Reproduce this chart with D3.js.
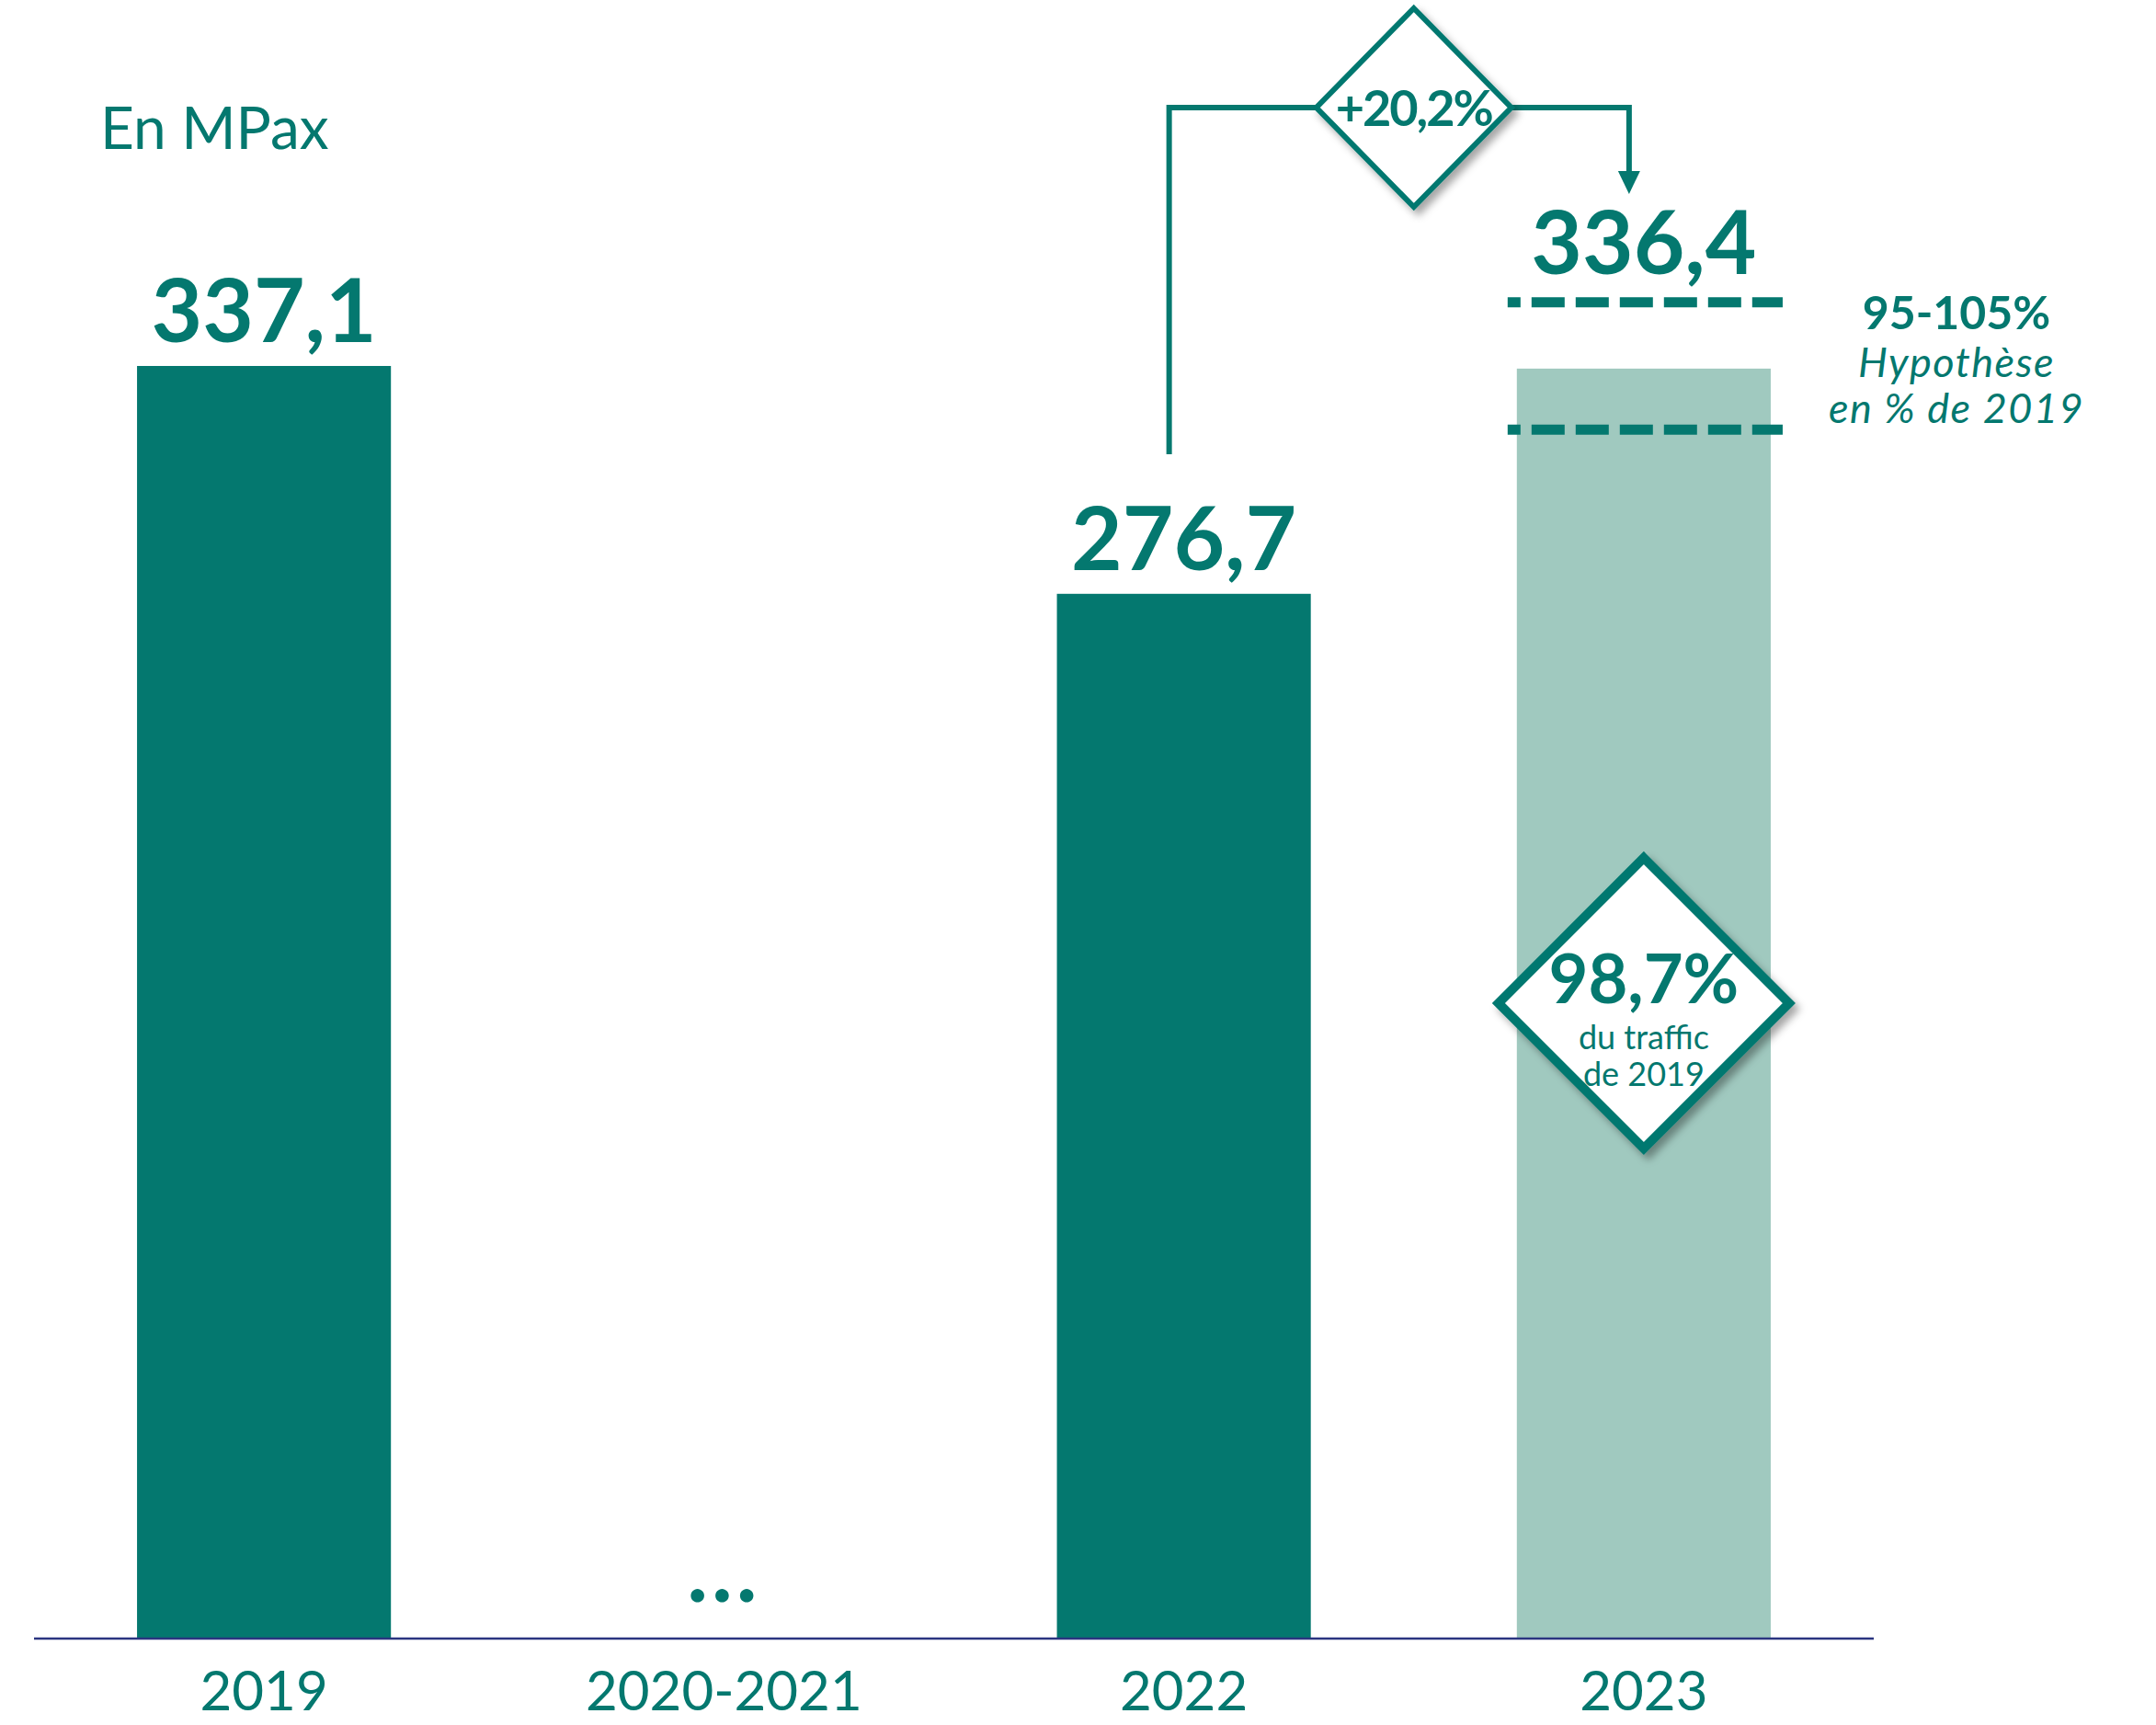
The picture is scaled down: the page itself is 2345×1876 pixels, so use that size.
<!DOCTYPE html>
<html>
<head>
<meta charset="utf-8">
<script src="https://cdn.jsdelivr.net/npm/d3@7"></script>
<style>
  body { margin: 0; background: #fff; }
  text { font-family: "Century Gothic", "URW Gothic", Lato, "Open Sans", sans-serif; }
</style>
</head>
<body>
<script>
// ---------------- data
var categories = ["2019", "2020-2021", "2022", "2023"];
var values = [337.1, null, 276.7, 336.4];
var isForecast = [false, false, false, true];
var hypothesisRange = [0.95, 1.05];      // 2023 hypothesis, share of 2019
var unitLabel = "En MPax";
var gapLabel = "...";
var growthLabel = "+20,2%";
var shareLabel = "98,7%";
var shareSub = ["du traffic", "de 2019"];
var hypothesisText = ["95-105%", "Hypothèse", "en % de 2019"];

// ---------------- sizes
var svgWidth = 2345;
var svgHeight = 1876;
var dark = "#04786f";
var light = "#a0c9bf";

var svg = d3.select("body").append("svg")
  .attr("width", svgWidth)
  .attr("height", svgHeight);

var defs = svg.append("defs");
defs.append("filter").attr("id", "shadow")
  .attr("x", "-20%").attr("y", "-20%").attr("width", "150%").attr("height", "150%")
  .append("feDropShadow")
  .attr("dx", 5).attr("dy", 6).attr("stdDeviation", 4)
  .attr("flood-color", "#000").attr("flood-opacity", 0.35);

var x = d3.scaleBand()
  .domain(categories)
  .range([37, 2038])
  .paddingInner(0.448)
  .paddingOuter(0.224);

var y = d3.scaleLinear()
  .domain([0, 337.1])
  .range([1781, 398]);

var fmt = function (v) { return d3.format(".1f")(v).replace(".", ","); };

// ---------------- bars
var barData = categories.map(function (c, i) {
  return { cat: c, value: values[i], forecast: isForecast[i] };
}).filter(function (d) { return d.value != null; });

svg.selectAll(".bar")
  .data(barData)
  .enter()
  .append("rect")
  .attr("class", "bar")
  .attr("x", d => x(d.cat))
  .attr("y", d => y(d.value))
  .attr("width", x.bandwidth())
  .attr("height", d => y(0) - y(d.value))
  .attr("fill", d => d.forecast ? light : dark);

// axis line
svg.append("line")
  .attr("x1", x.range()[0]).attr("x2", x.range()[1])
  .attr("y1", y(0) + 1).attr("y2", y(0) + 1)
  .attr("stroke", "#2b3580").attr("stroke-width", 2.5);

// category labels
svg.selectAll(".cat")
  .data(categories)
  .enter()
  .append("text")
  .attr("class", "cat")
  .attr("x", d => x(d) + x.bandwidth() / 2)
  .attr("y", 1860)
  .attr("text-anchor", "middle")
  .attr("font-size", 60)
  .attr("fill", dark)
  .text(d => d);

// gap marker
svg.append("text")
  .attr("x", x("2020-2021") + x.bandwidth() / 2)
  .attr("y", 1742)
  .attr("text-anchor", "middle")
  .attr("font-size", 96)
  .attr("font-weight", "bold")
  .attr("letter-spacing", 4)
  .attr("fill", dark)
  .text(gapLabel);

// unit
svg.append("text")
  .attr("x", 109).attr("y", 162)
  .attr("font-size", 64)
  .attr("fill", dark)
  .text(unitLabel);

// ---------------- hypothesis range for 2023
var base2019 = values[0];
var hx1 = x("2023") - 10;
var hx2 = x("2023") + x.bandwidth() + 13;

svg.selectAll(".hyp")
  .data(hypothesisRange)
  .enter()
  .append("line")
  .attr("class", "hyp")
  .attr("x1", hx1).attr("x2", hx2)
  .attr("y1", d => y(base2019 * d))
  .attr("y2", d => y(base2019 * d))
  .attr("stroke", dark)
  .attr("stroke-width", 11)
  .attr("stroke-dasharray", "36,12")
  .attr("stroke-dashoffset", 22);

var hypX = 2128;
var hypY = [358, 410, 460];
svg.selectAll(".hyptext")
  .data(hypothesisText)
  .enter()
  .append("text")
  .attr("class", "hyptext")
  .attr("x", hypX)
  .attr("y", (d, i) => hypY[i])
  .attr("text-anchor", "middle")
  .attr("font-size", (d, i) => i == 0 ? 50 : 45)
  .attr("font-weight", (d, i) => i == 0 ? "bold" : "normal")
  .attr("font-style", (d, i) => i == 0 ? "normal" : "italic")
  .attr("letter-spacing", (d, i) => i == 0 ? 0 : 1.5)
  .attr("fill", dark)
  .text(d => d);

// ---------------- value labels
svg.selectAll(".val")
  .data(barData)
  .enter()
  .append("text")
  .attr("class", "val")
  .attr("x", d => x(d.cat) + x.bandwidth() / 2)
  .attr("y", d => d.forecast ? y(base2019 * hypothesisRange[1]) - 31 : y(d.value) - 26)
  .attr("text-anchor", "middle")
  .attr("font-size", 96)
  .attr("font-weight", "bold")
  .attr("fill", dark)
  .text(d => fmt(d.value));

// ---------------- growth connector 2022 -> 2023
var cx1 = x("2022") + x.bandwidth() / 2 - 16;
var cx2 = x("2023") + x.bandwidth() / 2 - 16;
var cy = 117;
svg.append("path")
  .attr("d", `M${cx1},494 V${cy} H${cx2} V188`)
  .attr("fill", "none")
  .attr("stroke", dark)
  .attr("stroke-width", 6);
svg.append("path")
  .attr("d", `M${cx2 - 12},186 L${cx2 + 12},186 L${cx2},211 Z`)
  .attr("fill", dark);

var dx = (cx1 + cx2) / 2 + 16;
var r1 = 106;
svg.append("path")
  .attr("d", `M${dx},${cy - r1 - 2} L${dx + r1},${cy} L${dx},${cy + r1 + 2} L${dx - r1},${cy} Z`)
  .attr("fill", "#fff")
  .attr("stroke", dark)
  .attr("stroke-width", 6)
  .attr("filter", "url(#shadow)");
svg.append("text")
  .attr("x", dx).attr("y", cy + 20)
  .attr("text-anchor", "middle")
  .attr("font-size", 54)
  .attr("font-weight", "bold")
  .attr("letter-spacing", -2)
  .attr("fill", dark)
  .text(growthLabel);

// ---------------- share of 2019 diamond
var sx = x("2023") + x.bandwidth() / 2;
var sy = y(values[3] / 2);
var r2 = 158;
svg.append("path")
  .attr("d", `M${sx},${sy - r2} L${sx + r2},${sy} L${sx},${sy + r2} L${sx - r2},${sy} Z`)
  .attr("fill", "#fff")
  .attr("stroke", dark)
  .attr("stroke-width", 10)
  .attr("filter", "url(#shadow)");
svg.append("text")
  .attr("x", sx).attr("y", sy)
  .attr("text-anchor", "middle")
  .attr("font-size", 74)
  .attr("font-weight", "bold")
  .attr("fill", dark)
  .text(shareLabel);
svg.selectAll(".sharesub")
  .data(shareSub)
  .enter()
  .append("text")
  .attr("class", "sharesub")
  .attr("x", sx)
  .attr("y", (d, i) => sy + 50 + i * 40)
  .attr("text-anchor", "middle")
  .attr("font-size", 36)
  .attr("fill", dark)
  .text(d => d);
</script>
</body>
</html>
